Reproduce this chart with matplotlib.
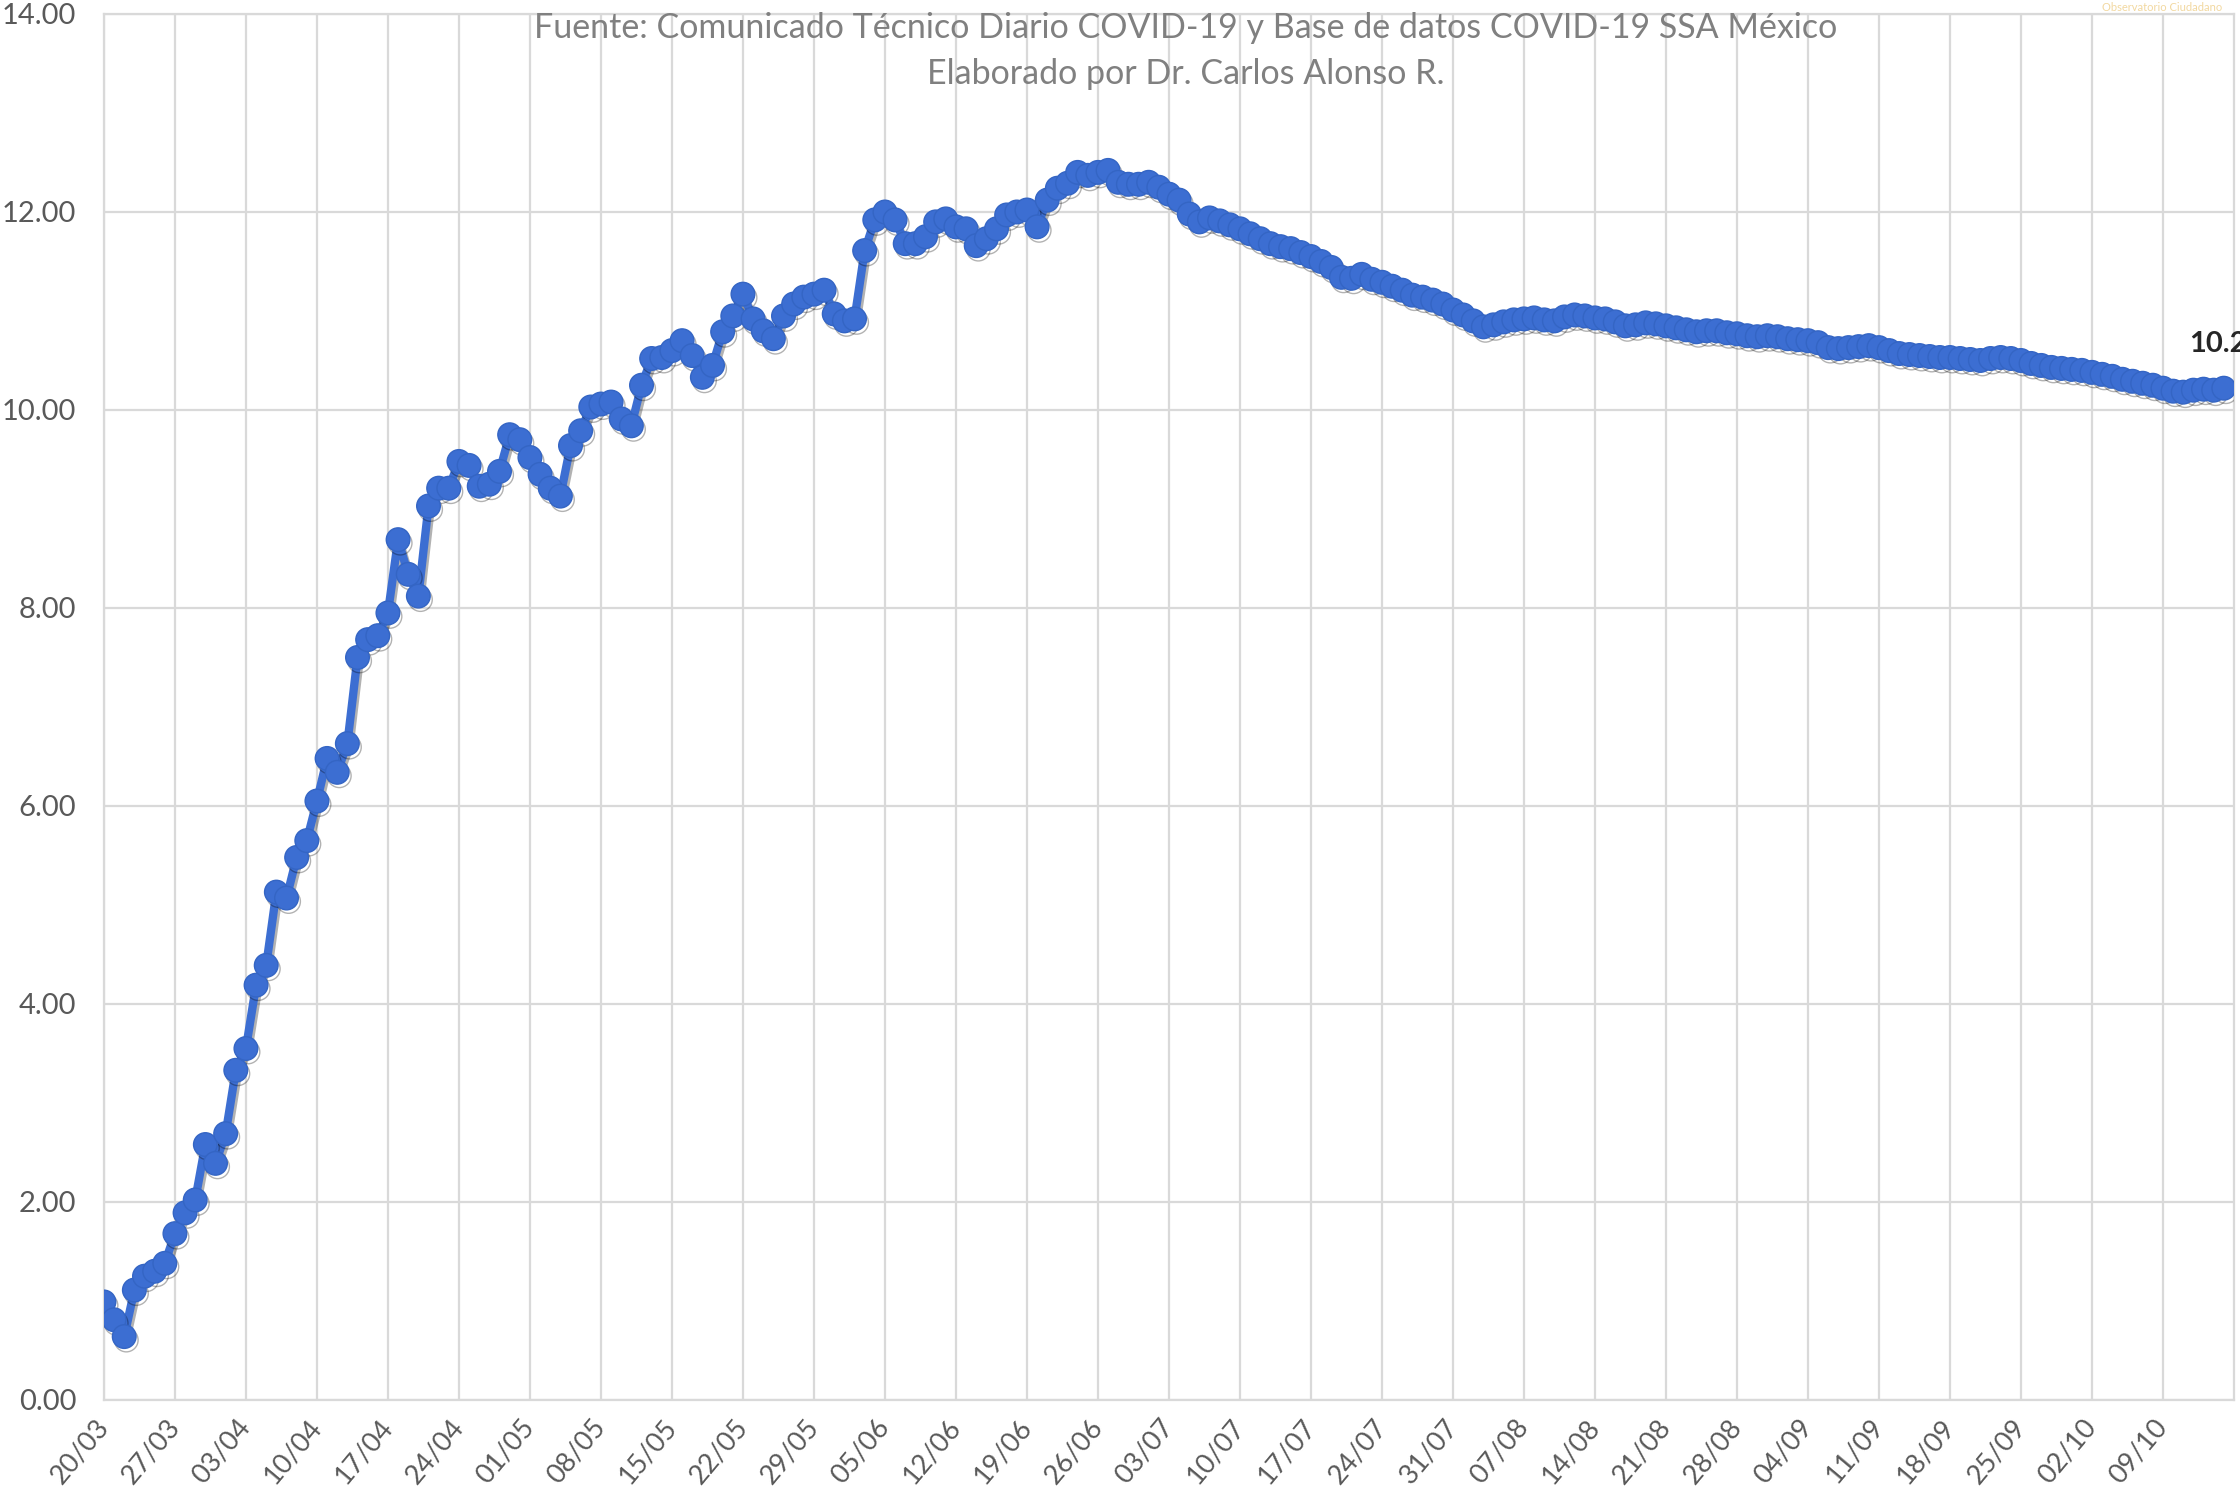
import numpy as np
import matplotlib.pyplot as plt
import matplotlib.patheffects as pe

plt.rcParams['font.family'] = ['Lato', 'DejaVu Sans']

# --- datos: valor diario desde 20/03 (un punto por día) ---
valores = [
    0.99, 0.81, 0.64, 1.11, 1.25, 1.30, 1.38, 1.68, 1.89, 2.02,
    2.58, 2.39, 2.69, 3.33, 3.55, 4.19, 4.39, 5.13, 5.07, 5.48,
    5.65, 6.05, 6.48, 6.34, 6.63, 7.50, 7.68, 7.72, 7.95, 8.69,
    8.34, 8.12, 9.03, 9.21, 9.21, 9.48, 9.44, 9.23, 9.25, 9.38,
    9.75, 9.70, 9.52, 9.35, 9.21, 9.13, 9.64, 9.79, 10.03, 10.06,
    10.08, 9.91, 9.84, 10.25, 10.52, 10.53, 10.60, 10.70, 10.55, 10.33,
    10.45, 10.79, 10.95, 11.17, 10.92, 10.80, 10.72, 10.95, 11.07, 11.14,
    11.17, 11.21, 10.97, 10.90, 10.92, 11.61, 11.92, 12.00, 11.92, 11.68,
    11.68, 11.75, 11.90, 11.93, 11.85, 11.83, 11.66, 11.73, 11.83, 11.97,
    12.00, 12.02, 11.85, 12.12, 12.24, 12.29, 12.40, 12.37, 12.40, 12.42,
    12.30, 12.28, 12.28, 12.30, 12.25, 12.18, 12.12, 11.98, 11.90, 11.94,
    11.91, 11.87, 11.83, 11.78, 11.73, 11.68, 11.65, 11.63, 11.59, 11.55,
    11.50, 11.44, 11.34, 11.33, 11.37, 11.32, 11.29, 11.25, 11.21, 11.16,
    11.14, 11.11, 11.07, 11.01, 10.96, 10.90, 10.84, 10.86, 10.89, 10.91,
    10.92, 10.93, 10.91, 10.90, 10.94, 10.96, 10.95, 10.93, 10.92, 10.89,
    10.85, 10.86, 10.88, 10.87, 10.85, 10.83, 10.81, 10.79, 10.80, 10.80,
    10.78, 10.77, 10.75, 10.74, 10.75, 10.74, 10.72, 10.71, 10.70, 10.68,
    10.63, 10.62, 10.63, 10.64, 10.65, 10.63, 10.60, 10.57, 10.56, 10.55,
    10.54, 10.53, 10.53, 10.52, 10.51, 10.50, 10.52, 10.53, 10.52, 10.50,
    10.47, 10.45, 10.43, 10.42, 10.41, 10.40, 10.38, 10.36, 10.34, 10.31,
    10.29, 10.27, 10.25, 10.22, 10.19, 10.18, 10.20, 10.21, 10.20, 10.22,
]

# etiquetas semanales del eje x
etiquetas = [
    '20/03', '27/03', '03/04', '10/04', '17/04', '24/04', '01/05', '08/05',
    '15/05', '22/05', '29/05', '05/06', '12/06', '19/06', '26/06', '03/07',
    '10/07', '17/07', '24/07', '31/07', '07/08', '14/08', '21/08', '28/08',
    '04/09', '11/09', '18/09', '25/09', '02/10', '09/10',
]

titulo_1 = 'Fuente: Comunicado Técnico Diario COVID-19 y Base de datos COVID-19 SSA México'
titulo_2 = 'Elaborado por Dr. Carlos Alonso R.'

dias = np.arange(len(valores))
pos_etiquetas = np.arange(len(etiquetas)) * 7

# --- figura ---
fig = plt.figure(figsize=(22.4, 15.05), dpi=100)
ax = fig.add_axes([0.0464, 0.0698, 0.9509, 0.9209])

azul = '#3c6ed2'
ax.plot(dias, valores, color=azul, lw=6, marker='o', ms=17,
        mfc=azul, mec='#3465c4', mew=1, zorder=3,
        path_effects=[pe.SimpleLineShadow(offset=(1.5, -2.5), shadow_color='k', alpha=0.3),
                      pe.Normal()])

ax.set_xlim(0, 210)
ax.set_ylim(0, 14)
ax.set_yticks(np.arange(0, 15, 2))
ax.set_yticklabels([f'{v:.2f}' for v in np.arange(0, 15, 2)])
ax.set_xticks(pos_etiquetas)
ax.set_xticklabels(etiquetas, rotation=50, ha='right', va='center', rotation_mode='anchor')

ax.grid(True, color='#d9d9d9', lw=1.6)
ax.set_axisbelow(True)
for s in ax.spines.values():
    s.set_color('#d9d9d9')
    s.set_linewidth(1.6)
ax.tick_params(length=0, labelcolor='#595959')
ax.tick_params(axis='y', pad=20, labelsize=21)
ax.tick_params(axis='x', pad=16, labelsize=19.5)

# textos de fuente
ax.text(0.508, 0.99, titulo_1, transform=ax.transAxes, ha='center', va='center',
        fontsize=24.5, color='#808080')
ax.text(0.508, 0.957, titulo_2, transform=ax.transAxes, ha='center', va='center',
        fontsize=24.5, color='#808080')

# último valor
ax.annotate(f'{valores[-1]:.2f}', xy=(dias[-1], valores[-1]), xytext=(-25, 32),
            textcoords='offset points', ha='left', va='center',
            fontsize=21, fontweight='bold', color='#262626', annotation_clip=False)

fig.text(0.992, 0.999, 'Observatorio Ciudadano', ha='right', va='top',
         fontsize=8, color='#f2d8a0')

fig.savefig('out.png', dpi=100)
